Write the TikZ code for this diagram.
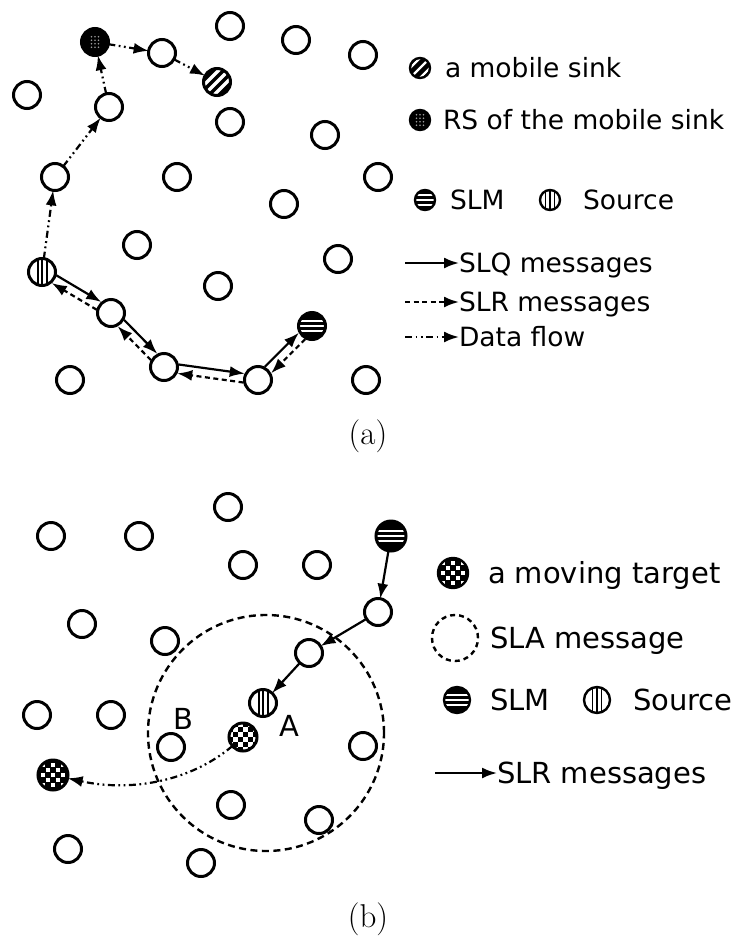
\documentclass[tikz,border=0pt]{standalone}
\usepackage{fontspec}
\newfontfamily\labelfont{DejaVu Sans}
\usetikzlibrary{arrows.meta,calc}

% parallel pair of messages between two nodes, offset to the left of travel
\newcommand\twinline[3]{\draw[#1, shorten <=14pt, shorten >=14pt]
  ($(#2)!4.5pt!90:(#3)$) -- ($(#3)!4.5pt!-90:(#2)$);}

\begin{document}
\begin{tikzpicture}[x=1pt,y=-1pt,
  every node/.style={inner sep=0pt, outer sep=0pt},
  sensor/.style={circle, draw, line width=3pt, fill=white, minimum size=27pt},
  icon/.style={circle, draw, line width=2.4pt, minimum size=#1},
  % fill patterns, argument = pattern scale
  sinkpat/.style={fill=black, path picture={
    \begin{scope}[shift={(path picture bounding box.center)}, scale=#1]
      \foreach \d in {-10,0,10}{\draw[white, line width=#1*3.2pt] ({(\d-20)*1pt},-20pt) -- ({(\d+20)*1pt},20pt);}
    \end{scope}}},
  rspat/.style={fill=black, path picture={
    \begin{scope}[shift={(path picture bounding box.center)}, scale=#1]
      \foreach \i in {-1,0,1}{\foreach \j in {-1.5,-0.5,0.5,1.5}{\fill[black!40] (\i*3.5pt,\j*3.5pt) circle (0.8pt);}}
    \end{scope}}},
  slmpat/.style={fill=black, path picture={
    \begin{scope}[shift={(path picture bounding box.center)}, scale=#1]
      \foreach \d in {-5,0,5}{\draw[white, line width=#1*1.6pt] (-20pt,\d pt) -- (20pt,\d pt);}
    \end{scope}}},
  srcpat/.style={fill=white, path picture={
    \begin{scope}[shift={(path picture bounding box.center)}, scale=#1]
      \foreach \d in {-4.5,0,4.5}{\draw[black, line width=#1*2pt] (\d pt,-20pt) -- (\d pt,20pt);}
    \end{scope}}},
  lighttarget/.style={fill=white, path picture={
    \begin{scope}[shift={(path picture bounding box.center)}, scale=#1]
      \foreach \i in {-3,-1,1}{\foreach \j in {-3,-1,1}{\fill[black] (\i*5pt,\j*5pt) rectangle ++(5pt,5pt);}}
      \foreach \i in {-2,0,2}{\foreach \j in {-2,0,2}{\fill[black] (\i*5pt,\j*5pt) rectangle ++(5pt,5pt);}}
    \end{scope}}},
  darktarget/.style={fill=black, path picture={
    \begin{scope}[shift={(path picture bounding box.center)}, scale=#1]
      \foreach \i in {-2,0,2}{\foreach \j in {-2,0,2}{\fill[white] (\i*5pt-1.6pt,\j*5pt-1.6pt) rectangle ++(3.2pt,3.2pt);}}
      \foreach \i in {-1,1}{\foreach \j in {-1,1}{\fill[white] (\i*5pt-1.6pt,\j*5pt-1.6pt) rectangle ++(3.2pt,3.2pt);}}
    \end{scope}}},
  tip/.style={-{Latex[length=15pt,width=11pt]}},
  slq/.style={tip, line width=2.2pt},
  slr/.style={slq, dash pattern=on 5pt off 3.5pt},
  flow/.style={tip, line width=2.2pt, dash pattern=on 7pt off 3.5pt on 1.8pt off 3.5pt on 1.8pt off 3.5pt},
  lega/.style={font=\labelfont\fontsize{26.5pt}{30pt}\selectfont, anchor=base west},
  legb/.style={font=\labelfont\fontsize{29pt}{34pt}\selectfont, anchor=base west},
  caption/.style={font=\fontsize{33pt}{38pt}\selectfont}
]
\useasboundingbox (0,0) rectangle (735,951);

% ---------------- (a) ----------------
\foreach \x/\y [count=\n] in {230/26,296/40,363/55,27/95,230/122,325/135,177/177,378/177,
  284/204,137/245,338/259,218/286,70/380,366/380}
  \node[sensor] (pa\n) at (\x,\y) {};
\node[sensor] (d1) at (55,177) {};
\node[sensor] (d2) at (109,107) {};
\node[sensor] (d3) at (162,53) {};
\node[sensor] (q1) at (111,313) {};
\node[sensor] (q2) at (164,367) {};
\node[sensor] (q3) at (258,380) {};
\node[sensor, rspat=1] (rs) at (95,42) {};
\node[sensor, sinkpat=1] (sink) at (217,82) {};
\node[sensor, srcpat=1] (src) at (42,272) {};
\node[sensor, slmpat=1] (slm) at (312,326) {};

% data flow towards the mobile sink
\draw[flow] (src) -- (d1);
\draw[flow] (d1) -- (d2);
\draw[flow] (d2) -- (rs);
\draw[flow] (rs) -- (d3);
\draw[flow] (d3) -- (sink);

% SLQ out, SLR back
\twinline{slq}{src}{q1}
\twinline{slq}{q1}{q2}
\twinline{slq}{q2}{q3}
\twinline{slq}{q3}{slm}
\twinline{slr}{slm}{q3}
\twinline{slr}{q3}{q2}
\twinline{slr}{q2}{q1}
\twinline{slr}{q1}{src}

% legend (a)
\node[icon=20pt, sinkpat=0.75] (ks) at (420,68) {};
\node[lega] (ts) at (445,77.5) {a mobile sink};
\node[icon=20pt, rspat=0.75] (kr) at (420,120) {};
\node[lega] (tr) at (443,129.5) {RS of the mobile sink};
\node[icon=20pt, slmpat=0.75] (km) at (425,200) {};
\node[lega] (tm) at (450,209.5) {SLM};
\node[icon=20pt, srcpat=0.75] (kc) at (550,200) {};
\node[lega] (tc) at (583,209.5) {Source};
\coordinate (l1) at (405,263);
\node[lega] (t1) at (459,272.5) {SLQ messages};
\draw[slq] (l1) -- (l1 -| t1.west);
\coordinate (l2) at (405,302);
\node[lega] (t2) at (459,311.5) {SLR messages};
\draw[slr] (l2) -- (l2 -| t2.west);
\coordinate (l3) at (405,337);
\node[lega] (t3) at (459,346.5) {Data flow};
\draw[flow] (l3) -- (l3 -| t3.west);

\node[caption] (capa) at (368,436) {(a)};

% ---------------- (b) ----------------
\node[circle, draw, line width=2.4pt, dash pattern=on 7pt off 4.5pt, minimum size=236pt] (sla) at (266,733) {};

\foreach \x/\y [count=\n] in {51/536,139/536,228/507,243/565,317/565,82/624,165/641,
  37/715,111/715,363/746,231/805,319/820,68/849,201/863}
  \node[sensor] (pb\n) at (\x,\y) {};
\node[sensor] (r1) at (378,612) {};
\node[sensor] (r2) at (309,653) {};
\node[sensor] (nb) at (171,747) {};
\node[sensor, minimum size=30pt, slmpat=1] (bslm) at (391,536) {};
\node[sensor, srcpat=1] (bsrc) at (263,703) {};
\node[sensor, minimum size=28pt, lighttarget=1] (ta) at (243,737) {};
\node[sensor, minimum size=30pt, darktarget=1] (tb) at (53,775) {};

\node[font=\labelfont\fontsize{29pt}{34pt}\selectfont] (lb) at (183,719) {B};
\node[font=\labelfont\fontsize{29pt}{34pt}\selectfont] (la) at (289,726) {A};

% SLR towards the source
\draw[slq] (bslm) -- (r1);
\draw[slq] (r1) -- (r2);
\draw[slq] (r2) -- (bsrc);

% target movement
\draw[flow] (ta) .. controls (190,782) and (130,792) .. (tb);

% legend (b)
\node[icon=30pt, darktarget=1] (kt) at (453,573) {};
\node[legb] (tt) at (488,583.5) {a moving target};
\node[circle, draw, line width=2.4pt, dash pattern=on 5pt off 4pt, minimum size=46pt] (ka) at (455,638) {};
\node[legb] (ta2) at (490,648.5) {SLA message};
\node[icon=26pt, slmpat=0.9] (kbm) at (457,700) {};
\node[legb] (tbm) at (490,710.5) {SLM};
\node[icon=26pt, srcpat=0.9] (kbc) at (597,700) {};
\node[legb] (tbc) at (633,710.5) {Source};
\coordinate (l4) at (435,773);
\node[legb] (t4) at (497,783.5) {SLR messages};
\draw[slq] (l4) -- (l4 -| t4.west);

\node[caption] (capb) at (368,919) {(b)};
\end{tikzpicture}
\end{document}
